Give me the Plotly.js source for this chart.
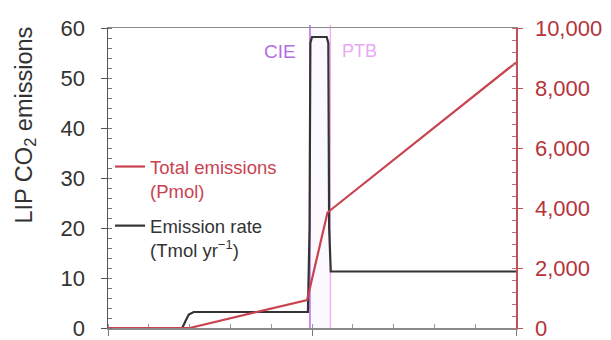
<!DOCTYPE html>
<html>
<head>
<meta charset="utf-8">
<script src="https://cdn.plot.ly/plotly-3.0.1.min.js"></script>
<style>html,body{margin:0;padding:0;background:#fff;}#chart{width:611px;height:340px;}</style>
</head>
<body>
<div id="chart"></div>
<script>
// Emission rate (left axis, Tmol/yr) — time in arbitrary units 0..10
const rateX = [0, 1.82, 1.9, 1.98, 2.1, 4.9, 4.94, 4.96, 5.0, 5.36, 5.4, 5.42, 5.46, 10];
const rateY = [0, 0, 1.4, 2.7, 3.2, 3.2, 20, 57, 58.2, 58.2, 57, 20, 11.3, 11.3];
// Total emissions (right axis, Pmol)
const totalX = [0, 2.0, 4.88, 5.38, 10];
const totalY = [0, 0, 930, 3850, 8850];
// Event markers
const eventX = [4.95, 5.45];
const eventLabels = ['CIE', 'PTB'];
const eventColors = ['#b36ee3', '#e8aaf0'];
// Axis ticks
const leftTicks = [0, 10, 20, 30, 40, 50, 60];
const rightTicks = [0, 2000, 4000, 6000, 8000, 10000];
const yTitle = 'LIP CO<sub>2</sub> emissions';

const FONT = 'Liberation Sans, Arial, Helvetica, sans-serif';
const RED = '#c9434f';

const traces = [
  {x: rateX, y: rateY, type: 'scatter', mode: 'lines', name: '<span style="color:#333">Emission rate<br>(Tmol yr<sup>−1</sup>)</span>',
   line: {color: '#333333', width: 2.2}, yaxis: 'y', legendrank: 2, legendgroup: 'b'},
  {x: totalX, y: totalY, type: 'scatter', mode: 'lines', name: '<span style="color:' + RED + '">Total emissions<br>(Pmol)</span>',
   line: {color: RED, width: 2.2}, yaxis: 'y2', legendrank: 1, legendgroup: 'a'}
];

const shapes = [
  {type: 'rect', xref: 'x', yref: 'paper', x0: eventX[0], x1: eventX[1], y0: 0, y1: 1,
   fillcolor: 'rgba(200,160,240,0.08)', line: {width: 0}, layer: 'below'},
  {type: 'line', xref: 'x', yref: 'paper', x0: eventX[0], x1: eventX[0], y0: 0, y1: 1.01,
   line: {color: eventColors[0], width: 1.5}, layer: 'below'},
  {type: 'line', xref: 'x', yref: 'paper', x0: eventX[1], x1: eventX[1], y0: 0, y1: 1.01,
   line: {color: eventColors[1], width: 1.2}, layer: 'below'}
];

const annotations = [
  {xref: 'x', yref: 'paper', x: eventX[0], y: 0.965, text: eventLabels[0], showarrow: false,
   xanchor: 'right', xshift: -12, font: {family: FONT, size: 19, color: eventColors[0]}},
  {xref: 'x', yref: 'paper', x: eventX[1], y: 0.965, text: eventLabels[1], showarrow: false,
   xanchor: 'left', xshift: 10, font: {family: FONT, size: 18, color: eventColors[1]}},
  {xref: 'paper', yref: 'paper', x: -0.2034, y: 0.675, text: yTitle, showarrow: false, textangle: -90,
   xanchor: 'center', yanchor: 'middle', font: {family: FONT, size: 23.5, color: '#333'}}
];

const layout = {
  width: 611, height: 340,
  margin: {l: 108, r: 95, t: 28, b: 12},
  paper_bgcolor: '#ffffff', plot_bgcolor: '#ffffff',
  font: {family: FONT, size: 18, color: '#333'},
  showlegend: true,
  legend: {x: 0.005, y: 0.6, xanchor: 'left', yanchor: 'top', bgcolor: 'rgba(0,0,0,0)',
           font: {family: FONT, size: 18.5}, tracegroupgap: 8, valign: 'top', traceorder: 'grouped'},
  xaxis: {range: [0, 10], showgrid: false, zeroline: false, showline: true, linecolor: '#8a8a8a', linewidth: 1.5,
          mirror: true, layer: 'below traces', ticks: 'outside', tickvals: [0, 5, 10], ticklen: 6, tickcolor: '#7a7a7a',
          showticklabels: false,
          minor: {ticks: 'inside', dtick: 1, tick0: 0, ticklen: 4, tickcolor: '#999', showgrid: false}},
  yaxis: {range: [0, 60], tickvals: leftTicks, showgrid: false, zeroline: false, showline: true,
          linecolor: '#555', linewidth: 1.5, ticks: 'outside', ticklen: 6, tickcolor: '#555',
          tickfont: {family: FONT, size: 22, color: '#333'}, ticklabelstandoff: 11, ticklabeloverflow: 'allow',
          minor: {ticks: 'inside', dtick: 2, ticklen: 4, tickcolor: '#777', showgrid: false}},
  yaxis2: {range: [0, 10000], tickvals: rightTicks, tickformat: ',d', overlaying: 'y', side: 'right',
           showgrid: false, zeroline: false, showline: true, linecolor: '#c0505a', linewidth: 1.5,
           ticks: 'outside', ticklen: 5, tickcolor: '#c0505a', ticklabeloverflow: 'allow',
           tickfont: {family: FONT, size: 22, color: '#b5343c'}, ticklabelstandoff: 8,
           minor: {ticks: 'inside', dtick: 400, ticklen: 4, tickcolor: '#c0707a', showgrid: false}},
  shapes: shapes,
  annotations: annotations
};

Plotly.newPlot('chart', traces, layout, {displayModeBar: false, staticPlot: true});
</script>
</body>
</html>
